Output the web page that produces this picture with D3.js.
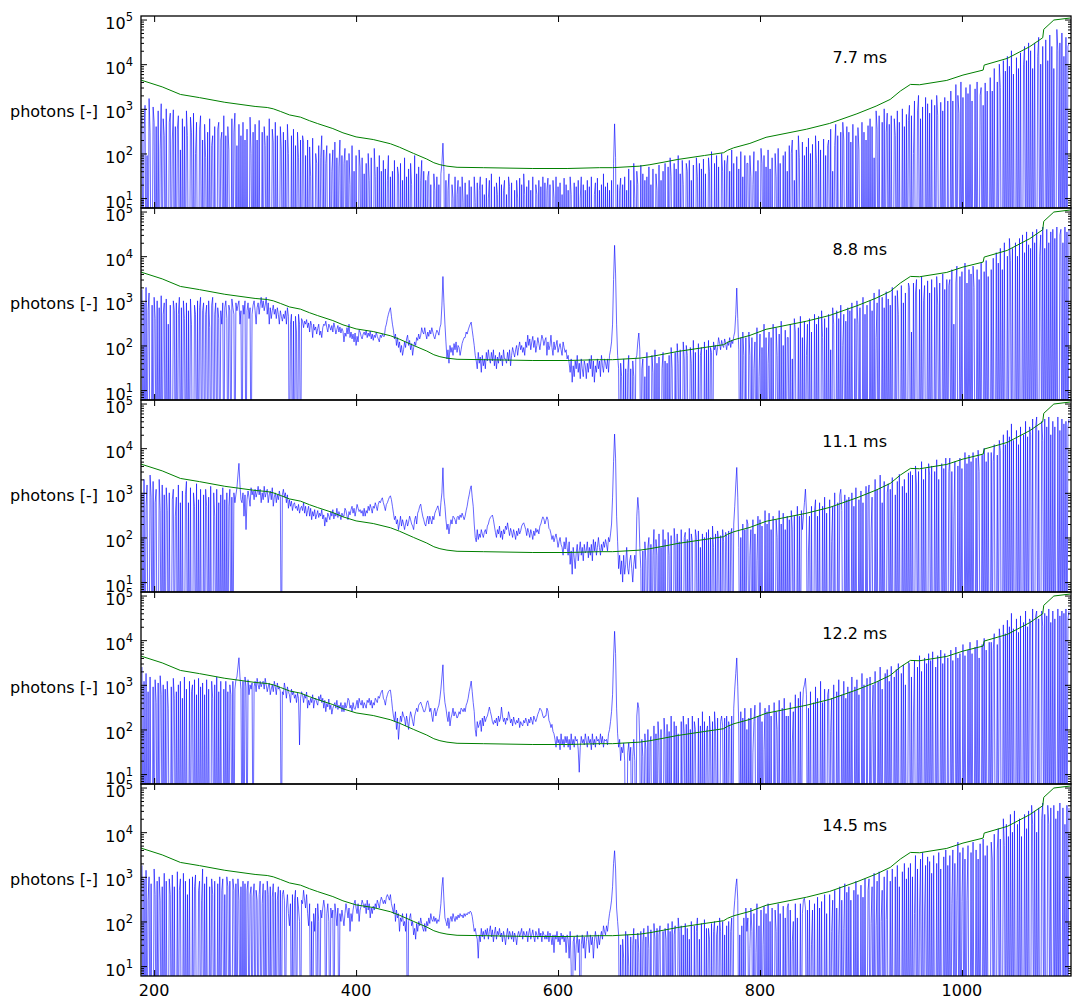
<!DOCTYPE html>
<html><head><meta charset="utf-8">
<script src="https://cdn.jsdelivr.net/npm/d3@7"></script>
<style>
body{margin:0;background:#fff}
svg text{font-family:"DejaVu Sans",sans-serif;fill:#000}
</style>
</head><body>
<svg id="chart" width="1082" height="1006"></svg>
<script>
// ---------------- data ----------------
const wavelengthStart = 188;   // nm, first sample
const wavelengthStep = 1;      // nm between samples
const exposureLabels = ["7.7 ms", "8.8 ms", "11.1 ms", "12.2 ms", "14.5 ms"];
const yLabel = "photons [-]";
const xTickValues = [200, 400, 600, 800, 1000];
const yDecadeExponents = [1, 2, 3, 4, 5];

const photons_7_7 = [
700,0,300,1200,0,90,0,1700,300,0,0,1100,500,0,400,0,900,0,120,1300,
0,600,250,0,1000,0,0,500,800,0,200,950,0,400,0,350,700,0,120,0,
600,0,400,0,900,250,0,0,650,300,0,800,0,100,500,0,0,350,700,0,
200,0,450,80,0,300,0,600,0,150,250,0,400,0,0,350,500,0,200,300,
0,700,0,250,0,400,120,0,0,600,0,300,800,0,150,0,450,0,250,0,
500,0,200,0,350,0,0,650,100,0,300,0,450,0,200,0,550,0,0,300,
0,400,150,0,250,0,600,0,0,350,180,0,500,0,250,0,0,400,120,0,
300,0,200,0,450,100,0,0,250,0,350,0,150,0,300,80,0,200,0,250,
180,0,90,0,200,0,140,30,0,220,0,0,100,60,0,150,0,80,250,0,
120,0,60,150,0,0,100,0,40,120,0,180,0,80,0,50,200,0,90,0,
60,130,0,70,0,100,20,0,150,0,40,0,90,0,0,120,50,0,80,0,
35,0,60,0,100,25,0,80,0,0,130,30,0,50,0,90,0,40,0,70,
0,45,0,25,90,0,30,0,40,0,70,0,0,50,35,0,60,0,25,0,
80,0,30,0,45,0,60,20,0,0,90,0,35,0,50,0,25,70,0,40,
0,25,0,30,40,0,20,0,0,35,15,0,30,0,20,0,35,60,170,40,
0,25,0,15,35,0,0,20,10,0,30,0,12,25,0,18,0,30,8,0,
22,0,12,0,25,0,18,0,0,30,8,0,22,0,15,30,0,20,0,12,
0,28,0,10,25,0,35,0,0,18,0,22,12,0,30,0,20,0,15,25,
0,12,0,30,18,0,22,0,0,15,0,25,10,0,28,0,20,0,35,12,
0,18,0,25,0,15,0,30,0,0,20,12,0,25,0,18,0,30,0,22,
0,15,28,0,20,0,0,25,10,0,30,0,18,0,22,0,12,0,28,0,
20,0,15,0,30,12,0,0,22,0,18,0,25,0,10,30,0,20,0,15,
0,25,0,18,0,30,0,0,12,22,0,28,0,15,0,20,0,35,0,18,
0,22,0,15,0,25,0,60,460,80,0,20,0,15,28,0,20,0,30,0,
15,0,45,0,25,0,0,60,10,0,40,20,0,0,55,0,35,0,25,0,
30,0,50,0,20,0,45,0,0,35,15,0,55,0,25,0,40,0,60,0,
0,50,0,80,30,0,0,60,0,45,0,90,0,35,0,70,20,0,0,60,
40,0,70,0,25,0,55,0,0,80,30,0,60,0,45,0,75,0,35,0,
0,80,40,0,110,0,0,60,0,90,0,50,0,0,100,40,0,70,0,55,
90,0,40,0,120,0,60,0,0,85,0,45,0,110,0,30,0,90,0,60,
60,0,90,30,0,20,110,0,40,0,70,0,0,130,60,0,90,0,50,0,
120,0,45,0,80,0,0,100,30,0,130,0,60,0,0,90,0,110,0,40,
0,150,0,100,200,0,25,0,120,0,250,80,0,0,180,0,90,0,140,0,
220,0,100,0,160,0,0,250,60,0,190,0,120,0,0,210,0,90,0,150,
200,0,350,0,40,0,150,450,0,250,0,0,300,0,500,200,0,0,400,0,
300,0,180,0,450,0,0,250,0,380,120,0,0,500,0,300,0,200,0,420,
0,600,0,400,0,80,0,900,350,0,700,0,0,500,0,1000,0,300,800,0,
450,0,700,0,0,600,250,0,900,0,500,0,0,1000,0,400,0,750,0,550,
1200,0,700,0,100,1500,0,0,900,2000,0,600,0,1100,0,0,1800,0,1300,0,
800,0,1600,0,0,1200,0,2000,700,0,0,1400,0,900,0,1800,0,0,1500,0,
0,2500,0,1500,0,0,3500,0,2000,800,0,4000,0,1800,0,0,3000,0,2200,0,
3500,0,1500,0,0,2800,0,4000,0,0,2000,3000,0,1200,0,3800,0,2500,0,0,
5000,0,2500,0,8000,0,0,4000,0,10000,3000,0,0,12000,0,7000,0,15000,0,9000,
0,20000,0,6000,0,0,14000,0,8000,0,18000,0,0,10000,25000,0,12000,0,30000,0,
20000,0,8000,0,30000,0,0,15000,40000,0,10000,0,25000,0,0,35000,0,12000,0,45000,
0,25000,0,8000,0,0,60000,20000,0,30000,0,50000,0,15000,0,40000,0,25000,30000];

const photons_8_8 = [
1800,0,900,0,2000,0,600,1500,0,0,800,0,1200,400,0,1000,0,700,0,1300,
0,500,900,0,1100,0,300,0,800,0,0,1000,600,0,900,0,500,1200,0,700,
0,1000,400,0,900,0,600,0,1100,300,0,0,800,500,0,1000,0,700,1200,0,
600,900,0,500,800,0,1000,250,0,800,1200,0,500,900,0,700,400,0,600,300,
900,0,700,1000,400,0,800,600,0,1100,700,500,0,900,600,800,1000,300,600,0,
800,500,1000,0,600,900,400,700,0,500,800,1000,600,300,700,900,500,800,1200,700,
1000,600,800,1200,500,900,300,700,400,600,800,500,650,400,700,500,300,600,450,350,
500,400,600,300,700,450,0,300,500,0,350,0,450,200,0,500,300,0,400,350,
250,350,300,380,250,320,200,350,280,150,300,220,260,180,240,300,170,210,150,250,
300,280,350,250,200,300,260,220,280,200,320,250,180,230,280,200,260,190,240,210,
120,190,160,250,180,300,150,200,140,180,120,190,100,160,120,220,200,160,140,180,
200,170,220,150,190,160,210,140,180,130,170,150,200,160,140,120,170,150,180,160,
160,250,300,400,500,600,700,450,300,220,140,180,100,150,90,120,70,100,60,80,
120,90,140,170,100,130,80,110,60,90,120,100,150,130,180,140,170,250,200,180,
250,180,140,200,160,220,180,250,200,160,140,180,220,200,170,250,300,800,3500,900,
300,120,50,80,40,100,70,90,60,110,80,120,70,100,90,60,80,110,130,150,
150,200,180,220,260,300,333,220,150,100,60,45,30,70,40,55,25,60,35,50,
30,70,45,80,50,40,70,45,80,35,60,30,55,40,70,45,60,35,80,50,
50,40,70,45,80,35,60,90,70,55,80,100,60,90,120,80,100,70,90,60,
120,90,170,100,140,80,120,160,90,130,70,100,150,110,80,120,170,140,100,130,
150,60,120,80,100,170,90,60,120,80,100,130,70,90,110,80,60,120,90,70,
80,50,60,40,25,50,15,35,20,45,30,60,25,40,18,50,30,20,45,35,
18,40,25,50,30,60,20,45,15,35,25,50,30,45,20,60,35,25,50,40,
30,50,25,60,80,120,300,3000,17500,4000,300,60,30,0,40,20,0,50,0,30,
0,25,60,0,30,0,45,20,0,50,60,120,190,80,0,30,50,0,20,0,
70,0,35,0,0,60,25,0,80,0,40,0,55,0,0,30,70,0,45,0,
40,0,60,0,90,30,0,0,70,0,110,40,0,80,0,0,120,50,0,100,
60,0,0,90,40,0,130,0,70,0,0,110,0,60,90,0,0,120,0,80,
0,130,0,90,70,0,120,80,100,60,90,150,110,80,130,100,90,140,110,80,
120,100,150,90,130,110,160,200,500,1930,400,80,0,150,0,200,60,0,150,0,
0,200,60,0,150,0,30,120,0,250,0,20,180,0,90,0,300,0,150,0,
40,200,0,150,0,300,0,0,250,60,0,180,0,350,0,100,0,220,0,150,
150,0,300,0,50,0,400,200,0,0,250,0,450,0,150,0,350,0,60,300,
0,400,0,200,0,0,500,0,300,0,450,0,0,600,150,0,400,0,250,0,
500,0,80,0,700,300,0,0,600,0,400,0,800,0,100,500,0,350,0,700,
0,600,0,900,0,0,400,0,1000,300,0,700,0,0,1200,0,500,0,800,0,
0,1000,0,600,0,1500,0,150,900,0,1800,0,0,1200,0,700,0,1600,0,1100,
0,800,0,2000,0,0,1300,0,1700,500,0,0,2200,0,900,0,1500,0,0,2500,
2000,0,200,0,2500,0,1500,3000,0,0,1800,0,3500,0,1000,2200,0,0,2800,0,
1500,0,3000,0,0,2000,0,3500,800,0,2500,0,0,4000,0,1800,0,3000,0,2200,
3000,0,5000,0,300,0,2500,6000,0,0,3500,0,4500,0,0,7000,0,2500,0,5000,
0,4000,0,6000,2000,0,0,5000,0,3000,0,7000,0,0,4500,0,8000,0,3500,0,
0,5000,0,9000,0,0,12000,0,7000,0,15000,0,5000,0,20000,0,0,10000,0,25000,
8000,0,15000,0,0,20000,0,10000,0,25000,0,0,30000,0,12000,0,35000,0,18000,0,
15000,0,35000,0,20000,0,40000,0,0,10000,30000,0,45000,0,15000,0,40000,0,20000,0,
35000,0,40000,0,25000,0,45000,0,0,30000,40000,0,20000,0,45000,0,35000,0,40000];

const photons_11_1 = [
1000,0,2000,0,500,1500,0,0,2500,800,0,1800,0,600,1200,0,0,2000,400,0,
1500,0,900,0,1300,400,0,1000,0,0,700,1200,0,300,800,0,1500,0,600,0,
1100,0,0,900,1800,0,600,0,1300,0,0,1000,500,0,1600,0,700,0,1200,0,
0,900,0,1200,500,0,800,0,1400,0,0,1000,300,0,1200,0,600,0,900,0,
1300,0,700,0,1000,0,500,1200,0,800,0,1000,600,900,1300,2500,4570,1500,700,600,
1000,300,900,150,700,1100,800,500,1300,900,1100,700,1200,800,1000,1400,900,1200,600,1000,
700,1400,800,1000,1200,600,900,1100,700,1300,500,800,1000,600,900,700,1100,800,0,900,
1200,800,1000,600,900,450,700,500,650,400,550,600,450,500,400,550,350,450,500,400,
600,350,500,300,400,500,300,450,250,380,300,420,260,320,400,280,350,300,420,260,
320,180,280,220,350,300,250,380,300,420,260,350,300,450,280,380,320,250,350,300,
300,450,400,300,250,380,320,420,500,350,450,300,400,550,450,380,420,350,400,300,
450,300,400,350,500,400,550,450,350,500,450,600,500,400,550,650,600,700,774,600,
500,400,550,600,700,800,857,700,500,350,250,300,200,250,150,200,300,180,250,200,
150,200,250,180,220,300,250,200,180,150,250,300,200,350,400,500,558,400,300,250,
200,180,250,300,200,300,250,200,300,250,350,400,450,511,400,300,600,1000,3640,800,
500,250,150,200,120,180,250,200,300,280,250,200,280,300,250,320,280,350,300,250,
300,400,500,700,900,1200,1437,800,500,200,100,80,150,90,120,100,150,120,100,130,
150,120,180,200,250,280,300,317,250,180,130,100,150,120,180,100,140,90,150,120,
180,150,213,150,110,160,130,100,150,120,90,140,110,160,120,140,180,200,213,180,
150,110,160,130,100,150,120,90,140,110,160,130,150,120,180,200,250,290,260,200,
240,290,250,160,150,120,90,110,80,100,120,90,60,80,100,70,60,40,80,55,
100,60,40,80,25,50,15,60,35,20,45,70,30,50,80,40,60,30,70,45,
50,80,35,60,40,70,30,90,50,80,40,60,100,60,40,70,50,80,60,90,
70,50,100,80,120,200,800,5000,20700,6000,300,80,20,40,15,30,10,40,15,25,
60,20,15,30,40,20,10,25,40,20,300,790,400,60,20,0,50,0,80,30,
0,60,100,0,70,0,40,151,0,90,40,0,120,0,60,0,150,0,90,0,
0,130,40,0,110,0,0,160,70,0,120,0,80,0,150,0,0,100,130,0,
90,0,160,0,120,80,0,0,150,100,0,140,0,60,0,120,0,100,0,130,
0,150,0,100,0,180,60,0,120,0,140,90,0,110,0,150,80,0,130,100,
0,140,0,120,160,0,200,500,1500,3700,800,60,0,100,0,200,0,150,0,250,
200,0,40,150,0,250,0,120,0,30,300,0,250,0,180,0,0,400,0,200,
0,350,0,150,0,300,0,0,250,100,0,400,0,200,0,350,0,150,0,300,
0,250,0,400,150,0,300,0,0,500,0,300,0,400,150,300,600,1210,400,0,
50,300,0,500,0,0,400,700,0,300,0,600,0,0,500,0,800,0,350,0,
0,700,0,80,500,0,1000,0,0,600,0,900,1200,400,0,0,900,0,700,0,
800,0,0,1000,0,500,0,1300,0,0,700,0,1100,0,600,0,0,1400,0,900,
1500,0,120,800,0,0,2000,0,1200,0,0,2500,0,600,0,1800,0,0,1000,1600,
0,1200,0,2200,0,0,900,0,1800,0,2600,0,0,1400,0,2000,0,1000,0,2800,
0,3000,0,2500,0,0,4000,1500,0,3000,0,0,5000,0,2000,0,3500,0,0,4500,
2500,0,4000,0,0,3000,0,5500,0,2000,0,0,4500,0,3500,0,6000,0,0,3000,
6000,0,3000,0,300,5000,0,0,4000,0,6000,0,3500,0,0,8000,0,4500,0,7000,
0,5000,0,8000,0,0,6000,0,9000,3000,0,0,7000,0,10000,0,5000,0,8000,0,
0,8000,0,5000,12000,0,0,7000,0,15000,9000,0,0,20000,0,12000,0,25000,0,18000,
0,35000,0,15000,0,0,25000,0,12000,0,30000,0,0,20000,0,40000,0,18000,0,30000,
20000,0,45000,0,0,30000,50000,0,25000,0,0,40000,15000,0,45000,0,30000,0,50000,0,
20000,0,40000,0,30000,0,0,50000,0,25000,0,45000,0,35000,0,40000,0,30000,45000];

const photons_12_2 = [
2500,0,1200,0,1800,0,700,0,1500,0,0,900,0,1300,400,0,1100,0,1600,600,
0,1000,0,800,0,1200,300,0,0,900,0,1400,500,0,700,0,1000,0,1200,0,
500,0,1500,0,800,0,0,1200,0,700,1000,0,1300,0,600,0,1400,0,900,0,
1100,0,600,0,1300,0,800,0,0,1200,500,0,1000,0,1500,0,700,0,1200,0,
0,800,0,1200,0,700,0,1000,600,0,1200,0,800,1300,1500,2500,4040,1500,800,0,
1200,0,1500,900,0,1300,600,1000,800,1100,0,900,1200,700,1400,1000,800,1200,900,1100,
1200,800,1400,1000,700,900,1100,600,800,1000,700,1200,900,600,1100,800,900,700,0,700,
600,1100,800,500,900,700,600,400,800,600,700,500,600,400,650,500,45,500,700,600,
400,600,500,690,300,450,350,500,400,600,300,450,500,400,350,550,450,600,400,500,
300,450,250,380,320,480,280,350,220,300,350,400,300,450,280,350,300,400,250,350,
250,400,300,350,500,450,300,350,250,400,300,280,350,450,300,500,400,350,450,300,
400,350,300,450,400,500,350,450,300,400,350,500,450,400,550,500,600,700,760,500,
450,350,500,600,700,750,760,500,300,200,150,250,100,180,60,120,200,150,250,200,
180,120,200,150,100,180,250,200,150,120,200,250,300,250,350,380,410,350,300,250,
250,300,400,440,350,250,300,200,150,250,300,200,250,300,350,500,800,1500,2810,700,
400,300,200,150,250,120,180,220,300,200,250,220,180,200,250,220,300,280,250,300,
250,350,400,500,700,900,1210,700,400,250,100,70,150,110,130,160,90,180,120,200,
150,180,200,250,317,250,200,150,130,160,140,180,120,200,150,180,317,200,150,180,
130,180,160,250,200,140,170,120,190,150,130,160,140,180,110,150,130,120,160,140,
180,150,120,170,140,190,160,130,200,170,150,180,220,250,300,280,250,200,180,200,
200,300,260,160,140,110,130,90,80,60,40,70,50,60,35,80,45,60,40,70,
50,70,40,60,35,80,45,60,40,70,55,60,35,11,40,70,50,60,45,80,
55,40,70,50,60,35,80,45,60,40,70,55,60,45,80,50,70,40,60,55,
60,45,80,100,150,250,600,4000,15800,5000,300,80,40,60,20,40,30,50,20,0,
0,30,50,20,40,0,25,60,20,0,200,400,300,40,0,60,25,0,80,35,
0,100,0,50,70,0,0,120,0,80,0,150,50,0,100,0,0,180,60,0,
130,0,90,0,200,0,0,150,0,120,0,80,0,0,150,0,200,80,0,130,
0,180,0,100,0,200,0,150,100,0,0,180,0,120,0,250,0,150,0,90,
120,0,200,80,0,150,0,250,100,0,180,0,0,150,200,120,0,180,0,200,
0,150,100,0,200,0,300,800,1800,4000,900,120,0,250,0,180,0,300,0,100,
0,180,0,300,0,30,150,350,0,0,200,0,400,0,150,0,35,300,0,250,
0,350,0,200,0,0,400,0,250,100,0,450,0,0,300,0,500,0,200,0,
200,0,400,0,50,250,0,600,0,0,500,0,700,0,300,800,1000,1400,600,0,
300,0,700,0,0,400,0,900,0,500,0,0,1200,0,400,0,800,0,0,600,
800,0,90,500,0,1000,0,0,700,0,1300,0,0,600,0,1200,0,500,0,900,
0,700,0,1500,0,0,900,0,1300,0,600,0,0,1800,0,1000,0,0,1400,0,
0,1500,0,150,1000,0,2000,0,0,1200,0,2500,0,800,0,0,1800,0,2200,0,
1200,0,2600,0,0,1500,0,2200,0,3000,0,0,1800,0,2800,0,1000,0,0,3200,
3000,0,1500,0,200,3500,0,0,2500,0,4500,0,2000,0,0,4000,0,3000,0,5000,
0,3500,0,5500,0,0,2500,0,4500,0,0,6000,0,3000,0,5000,0,0,4000,0,
0,6000,0,3500,0,0,7000,0,4000,0,5000,0,0,8000,0,4500,0,0,6000,0,
9000,0,5000,0,0,7000,0,10000,0,4000,0,0,8000,0,11000,0,6000,0,0,9000,
0,9000,0,6000,14000,0,0,8000,0,18000,10000,0,0,22000,0,14000,0,28000,0,20000,
0,40000,0,18000,0,0,30000,0,15000,0,35000,0,0,25000,0,45000,0,20000,0,30000,
25000,0,50000,0,0,35000,45000,0,30000,0,0,45000,20000,0,40000,0,35000,0,50000,0,
25000,0,45000,0,30000,0,0,50000,0,35000,0,45000,0,40000,0,50000,0,30000,45000];

const photons_14_5 = [
1800,0,900,0,1400,0,300,1000,0,700,0,0,1500,400,0,800,0,1000,300,0,
600,0,1200,0,800,0,0,900,400,0,1100,0,600,0,0,1300,0,500,900,0,
0,1200,0,800,0,400,0,900,0,0,1000,0,600,1100,0,0,500,800,0,300,
1500,0,700,0,1000,0,0,600,0,900,400,0,800,0,0,700,0,1000,0,500,
900,0,400,0,1000,600,0,800,0,0,900,500,0,700,0,900,300,0,600,0,
800,0,700,0,500,800,0,400,600,0,350,700,0,500,300,0,400,800,0,250,
700,0,500,0,800,400,0,600,0,350,700,0,450,0,300,600,0,500,0,400,
500,300,0,200,400,150,80,250,0,400,0,300,500,0,350,200,100,0,300,250,
500,300,200,400,150,80,250,0,100,0,150,60,200,0,250,100,0,180,120,200,
300,200,0,150,250,100,0,200,120,180,0,250,150,80,200,0,150,100,180,120,
80,150,250,180,120,200,60,150,100,180,250,300,200,150,250,100,180,220,300,250,
200,250,150,300,180,250,120,200,150,220,180,250,200,300,250,200,280,350,300,250,
300,250,350,400,350,300,400,250,200,150,250,100,180,120,150,60,120,100,150,80,
100,60,150,0,100,120,150,80,100,50,70,40,90,60,100,80,120,90,70,60,
90,60,100,80,120,90,150,110,100,130,100,120,90,110,100,150,250,600,970,300,
120,100,80,120,70,110,130,100,150,120,100,130,110,140,120,150,130,140,120,150,
130,150,140,160,150,170,160,130,90,60,70,50,40,15,50,35,70,45,60,40,
65,50,70,40,60,80,45,65,35,55,75,40,60,50,70,45,55,35,60,45,
30,50,70,40,60,50,40,60,35,55,45,30,50,60,45,55,70,40,60,50,
45,60,35,55,70,40,50,65,45,35,60,50,40,70,45,55,35,60,50,40,
50,40,60,35,55,45,30,50,20,50,40,60,35,45,30,55,40,50,35,45,
20,50,40,15,60,10,0,35,45,8,30,50,20,40,0,30,50,25,45,15,
35,60,40,20,50,30,45,15,35,60,40,25,50,30,45,60,40,80,60,50,
80,60,100,150,200,300,600,2000,3840,1500,200,100,50,0,30,0,40,15,0,60,
0,50,10,0,45,0,30,70,0,40,0,55,20,0,60,0,35,70,0,45,
0,80,25,0,65,0,0,90,40,0,70,0,50,80,0,0,60,0,70,40,
0,90,0,60,0,100,0,50,80,0,0,120,60,0,80,0,50,0,90,0,
70,0,40,0,100,0,0,80,0,60,120,0,40,0,90,0,0,110,0,70,
0,70,40,0,90,0,60,100,0,50,80,0,120,60,0,100,0,50,0,80,
0,100,0,60,120,0,150,300,600,900,300,0,50,0,80,0,120,0,200,60,
120,0,25,200,60,0,150,0,20,250,0,80,0,180,0,30,220,0,150,0,
250,0,100,0,200,0,0,180,60,0,250,0,150,0,0,220,0,120,0,200,
250,0,180,0,35,100,0,250,0,120,0,0,250,0,150,300,330,200,0,180,
0,300,0,30,180,0,250,0,0,350,0,200,0,280,0,0,400,0,150,0,
0,400,0,60,300,0,500,0,200,0,50,600,0,300,0,70,700,0,450,0,
600,0,300,0,0,500,0,800,0,400,0,0,650,0,350,0,900,0,0,500,
900,0,90,600,0,1200,0,80,800,0,1300,0,100,500,0,1000,0,110,1400,0,
0,800,0,1500,0,0,1000,0,1800,0,600,0,0,1300,0,2000,0,900,0,1600,
0,2000,0,1000,0,150,3000,0,1500,0,200,2500,0,3500,0,180,1800,0,2800,0,
2200,0,1200,0,3000,0,0,2000,0,3500,0,1500,0,0,2800,0,4000,0,1800,0,
3000,0,250,4000,0,2000,0,300,6000,0,3500,0,280,4500,0,2500,0,300,5000,0,
0,3500,0,6000,0,0,4000,0,2500,0,5500,0,0,7000,0,3000,0,5000,0,0,
0,6000,2500,0,9000,0,0,4000,12000,0,7000,0,0,20000,5000,0,15000,0,8000,0,
25000,0,10000,0,30000,0,0,15000,0,20000,0,8000,0,0,25000,0,12000,0,30000,0,
0,40000,15000,0,30000,0,10000,0,35000,0,0,20000,45000,0,25000,0,0,40000,15000,0,
35000,0,0,40000,0,20000,0,30000,0,45000,0,0,35000,0,15000,0,40000,0,35000];

// detection threshold (green), same in every panel
const thresholdWavelength = [187,208,226,245,270,300,312,318,325,334,345,354,362,377,387,400,417,434,443,457,470,477,483,490,500,526,575,609,641,654,681,691,705,718,745,764,768,774,790,806,846,869,896,915,929,939,949,958,985,1001,1021,1022,1045,1067,1080,1081,1091,1107];
const thresholdPhotons   = [4400,3100,2100,1780,1400,1130,1070,1000,875,730,650,540,466,361,290,235,205,165,138,100,75,62,56,52,49,48,46,46,48,48,52,56,64,73,90,104,118,134,168,230,349,471,774,1150,1627,2500,3520,3460,4330,5700,7380,9550,13500,24600,39100,60300,97500,108000];

const panelSeries = [photons_7_7, photons_8_8, photons_11_1, photons_12_2, photons_14_5];

// ---------------- layout ----------------
const left = 141, right = 1071, top0 = 16, panelH = 192;
const svg = d3.select("#chart");
const x = d3.scaleLinear().domain([187, 1108]).range([left, right]);
const threshold = thresholdWavelength.map((w, i) => ({w, v: thresholdPhotons[i]}));

const minorTicks = [];
for (let e = 0; e <= 5; e++) for (let m = 2; m <= 9; m++) {
  const v = m * Math.pow(10, e);
  if (v > 6.2 && v < 1.2e5) minorTicks.push(v);
}
const majorTicks = yDecadeExponents.map(e => Math.pow(10, e));

panelSeries.forEach((series, i) => {
  const top = top0 + i * panelH, bottom = top + panelH;
  const y = d3.scaleLog().domain([6, 1.2e5]).range([bottom, top]);
  const g = svg.append("g");

  g.append("clipPath").attr("id", "clip" + i)
    .append("rect").attr("x", left).attr("y", top).attr("width", right - left).attr("height", panelH);

  const plot = g.append("g").attr("clip-path", `url(#clip${i})`);
  const blue = d3.line()
    .x((d, j) => x(wavelengthStart + j * wavelengthStep))
    .y(d => y(Math.max(d, 0.05)));
  plot.append("path").datum(series)
    .attr("d", blue).attr("fill", "none").attr("stroke", "#0000ff")
    .attr("stroke-width", 0.6).attr("stroke-linejoin", "round");
  const green = d3.line().x(d => x(d.w)).y(d => y(d.v));
  plot.append("path").datum(threshold)
    .attr("d", green).attr("fill", "none").attr("stroke", "#008000").attr("stroke-width", 1);

  // ticks (inward, on all four sides)
  const axes = [
    g.append("g").attr("transform", `translate(${left},0)`).call(d3.axisLeft(y).tickValues(minorTicks).tickSize(-3).tickFormat("")),
    g.append("g").attr("transform", `translate(${left},0)`).call(d3.axisLeft(y).tickValues(majorTicks).tickSize(-6).tickFormat("")),
    g.append("g").attr("transform", `translate(${right},0)`).call(d3.axisRight(y).tickValues(minorTicks).tickSize(-3).tickFormat("")),
    g.append("g").attr("transform", `translate(${right},0)`).call(d3.axisRight(y).tickValues(majorTicks).tickSize(-6).tickFormat("")),
    g.append("g").attr("transform", `translate(0,${top})`).call(d3.axisTop(x).tickValues(xTickValues).tickSize(-6).tickFormat("")),
    g.append("g").attr("transform", `translate(0,${bottom})`).call(d3.axisBottom(x).tickValues(xTickValues).tickSize(-6).tickFormat(""))
  ];
  axes.forEach(a => { a.select(".domain").remove(); a.selectAll("line").attr("stroke", "#000"); });

  // frame
  g.append("rect").attr("x", left).attr("y", top).attr("width", right - left).attr("height", panelH)
    .attr("fill", "none").attr("stroke", "#000").attr("stroke-width", 1.3);

  // y tick labels 10^n
  yDecadeExponents.forEach(e => {
    const t = g.append("text").attr("x", 133).attr("y", y(Math.pow(10, e)) + 9.5)
      .attr("text-anchor", "end").attr("font-size", 16);
    t.append("tspan").text("10");
    t.append("tspan").attr("dy", -8).attr("font-size", 11.5).text(e);
  });

  g.append("text").attr("x", 10).attr("y", top + 101).attr("font-size", 16).text(yLabel);
  g.append("text").attr("x", 887).attr("y", top + 47).attr("text-anchor", "end")
    .attr("font-size", 16).text(exposureLabels[i]);

  if (i === panelSeries.length - 1) {
    xTickValues.forEach(v => {
      g.append("text").attr("x", x(v)).attr("y", bottom + 20).attr("text-anchor", "middle")
        .attr("font-size", 16).text(v);
    });
  }
});
</script>
</body></html>
